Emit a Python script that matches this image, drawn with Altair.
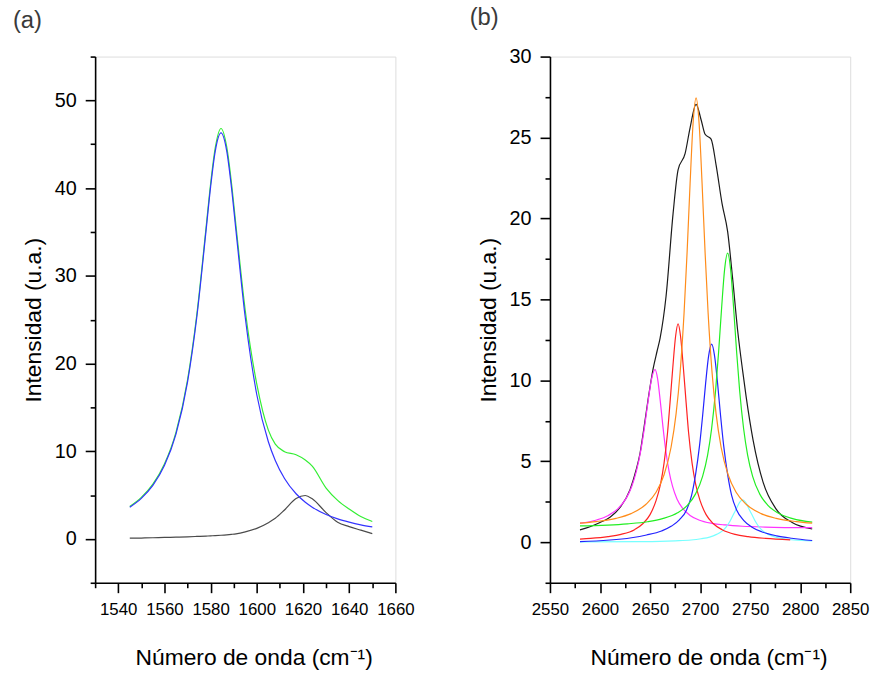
import altair as alt
import pandas as pd

FONT = "Liberation Sans"

# ---------------- (a) G band region ----------------
g_x = [1545, 1550, 1555, 1560, 1565, 1570, 1574, 1578, 1580, 1582, 1584.5, 1587, 1589,
       1591, 1595, 1600, 1605, 1608, 1612, 1617, 1621, 1624, 1630, 1635, 1640, 1645, 1650]
g_fit = [3.62, 4.63, 6.11, 8.36, 11.95, 17.88, 25.25, 35.1, 40.15, 44.2, 46.3, 44.2, 40.15,
         35.1, 25.25, 16.44, 11.08, 8.95, 6.89, 5.15, 4.18, 3.62, 2.78, 2.28, 1.91, 1.61, 1.38]
d_prime = [0.08, 0.1, 0.13, 0.17, 0.2, 0.24, 0.28, 0.32, 0.35, 0.38, 0.42, 0.47, 0.52,
           0.58, 0.8, 1.2, 1.85, 2.35, 3.3, 4.6, 4.95, 4.58, 3.0, 1.9, 1.4, 1.0, 0.6]
g_total = [3.70, 4.73, 6.24, 8.53, 12.15, 18.12, 25.53, 35.42, 40.50, 44.58, 46.8, 44.67, 40.67,
           35.68, 26.05, 17.64, 12.4, 10.8, 9.95, 9.6, 9.0, 8.3, 5.8, 4.4, 3.4, 2.55, 1.98]

# ---------------- (b) 2D band region ----------------
bk_x = [2580, 2590, 2600, 2610, 2620, 2630, 2636, 2640, 2644, 2648, 2653, 2657, 2660, 2666,
        2673, 2678, 2685, 2690, 2696, 2701, 2705, 2711, 2716, 2722, 2727.5, 2732.5, 2737.5,
        2742.5, 2746, 2753, 2763, 2776, 2792, 2812]
bk_y = [0.77, 0.96, 1.22, 1.55, 2.15, 3.25, 4.45, 5.5, 7.1, 8.8, 10.7, 11.8, 12.6, 15.2,
        20.3, 23.0, 24.0, 25.6, 27.05, 26.1, 25.2, 24.9, 23.3, 20.9, 19.2, 16.3, 13.1,
        10.6, 9.0, 6.3, 3.7, 2.05, 1.22, 0.82]

or_x = [2580, 2596, 2616, 2631, 2646, 2656, 2664, 2671, 2676, 2680, 2684, 2687, 2690, 2693,
        2696, 2699, 2702, 2705, 2708, 2712, 2716, 2721, 2728, 2736, 2746, 2761, 2776, 2796, 2812]
or_y = [1.18, 1.28, 1.48, 1.77, 2.35, 3.09, 4.17, 5.87, 7.93, 10.46, 14.18, 17.89, 22.14, 25.88,
        27.45, 25.88, 22.14, 17.89, 14.18, 10.46, 7.93, 5.87, 4.17, 3.09, 2.35, 1.77, 1.48, 1.28, 1.18]

gr_x = [2580, 2627.5, 2647.5, 2662.5, 2677.5, 2687.5, 2695.5, 2702.5, 2707.5, 2711.5, 2715.5,
        2718.5, 2721.5, 2724.5, 2727.5, 2730.5, 2733.5, 2736.5, 2739.5, 2743.5, 2747.5, 2752.5,
        2759.5, 2767.5, 2777.5, 2792.5, 2812]
gr_y = [1.01, 1.14, 1.27, 1.46, 1.82, 2.30, 2.99, 4.07, 5.39, 7.01, 9.38,
        11.75, 14.47, 16.86, 17.86, 16.86, 14.47, 11.75, 9.38, 7.01, 5.39, 4.07,
        2.99, 2.30, 1.82, 1.46, 1.24]

rd_x = [2580, 2590.5, 2608, 2621, 2634.5, 2643, 2650, 2656, 2660.5, 2664, 2667.5, 2670, 2672.75,
        2675.5, 2678, 2680.5, 2683.25, 2686, 2688.5, 2692, 2695.5, 2700, 2706, 2713, 2722, 2735,
        2748, 2765.5, 2790]
rd_y = [0.20, 0.24, 0.35, 0.49, 0.78, 1.16, 1.71, 2.57, 3.61, 4.89, 6.78, 8.66, 10.81,
        12.71, 13.5, 12.71, 10.81, 8.66, 6.78, 4.89, 3.61, 2.57, 1.71, 1.16, 0.78, 0.49,
        0.35, 0.24, 0.15]

bl_x = [2580, 2631.5, 2646.5, 2661.5, 2671.5, 2679.5, 2686.5, 2691.5, 2695.5, 2699.5, 2702.5,
        2705.5, 2708.5, 2711.5, 2714.5, 2717.5, 2720.5, 2723.5, 2727.5, 2731.5, 2736.5, 2743.5,
        2751.5, 2761.5, 2776.5, 2791.5, 2812]
bl_y = [0.04, 0.28, 0.45, 0.7, 1.0, 1.4, 2.0, 2.9, 4.2, 6.0, 7.8,
        9.8, 11.5, 12.24, 11.5, 9.8, 7.8, 6.0, 4.2, 2.9, 2.0, 1.35,
        0.95, 0.65, 0.4, 0.25, 0.11]

mg_x = [2580, 2596.7, 2608.3, 2617.7, 2625.8, 2631.7, 2636.3, 2641, 2644.5, 2648, 2651.5, 2655,
        2657.6, 2660.25, 2662.9, 2665.5, 2669, 2672.5, 2676.9, 2683, 2690, 2698.75, 2711.9, 2725,
        2742.5, 2765, 2812]
mg_y = [1.18, 1.38, 1.66, 2.06, 2.68, 3.45, 4.38, 5.76, 7.13, 8.70, 10.08, 10.66,
        10.08, 8.70, 7.13, 5.76, 4.38, 3.45, 2.68, 2.06, 1.66, 1.38, 1.17, 1.07,
        0.99, 0.94, 0.90]

cy_x = [2580, 2639, 2660, 2675, 2691, 2701, 2709.5, 2716.5, 2722, 2726, 2730, 2733, 2736.5,
        2739.5, 2742.5, 2745.5, 2748.5, 2752, 2755, 2759, 2763, 2768, 2775.5, 2784, 2794, 2812]
cy_y = [0.02, 0.04, 0.06, 0.09, 0.14, 0.22, 0.32, 0.49, 0.69, 0.94, 1.31, 1.68, 2.10,
        2.47, 2.62, 2.47, 2.10, 1.68, 1.31, 0.94, 0.69, 0.49, 0.32, 0.22, 0.14, 0.08]

X_TITLE = "Número de onda (cm⁻¹)"
Y_TITLE = "Intensidad (u.a.)"


def ticks(start, stop, step):
    out, v = [], start
    while v <= stop + 1e-9:
        out.append(round(v, 3))
        v += step
    return out


def make_axis(vals, major, title, label_size, title_pad, x_axis):
    extra = {"titleX": 160} if x_axis else {}
    return alt.Axis(
        values=vals,
        format="d",
        labelExpr=f"datum.value % {major} == 0 ? datum.label : ''",
        tickSize={"condition": {"test": f"datum.value % {major} != 0", "value": 5}, "value": 10},
        title=title,
        grid=False,
        labelFlush=False,
        labelOverlap=False,
        labelFont=FONT,
        labelFontSize=label_size,
        labelColor="#000000",
        labelPadding=9,
        titleFont=FONT,
        titleFontSize=23,
        titleFontWeight="normal",
        titleColor="#000000",
        titlePadding=title_pad,
        domainColor="#000000",
        domainWidth=1.6,
        tickColor="#000000",
        tickWidth=1.6,
        **extra,
    )


def panel(series, xdom, ydom, xaxis, yaxis, label, label_dx, label_offset):
    layers = []
    for xs, ys, color in series:
        df = pd.DataFrame({"x": xs, "y": ys})
        layers.append(
            alt.Chart(df)
            .mark_line(color=color, strokeWidth=1.2, interpolate="monotone")
            .encode(
                x=alt.X("x:Q", scale=alt.Scale(domain=xdom, nice=False, zero=False), axis=xaxis),
                y=alt.Y("y:Q", scale=alt.Scale(domain=ydom, nice=False, zero=False), axis=yaxis),
            )
        )
    return alt.layer(*layers).properties(
        width=303,
        height=531,
        title=alt.TitleParams(
            label, anchor="start", frame="group", fontSize=24, font=FONT,
            fontWeight="normal", color="#3a3a3a", dx=label_dx, offset=label_offset,
        ),
    )


left = panel(
    [
        (g_x, d_prime, "#4a4a4a"),
        (g_x, g_total, "#33ee33"),
        (g_x, g_fit, "#3333ff"),
    ],
    [1530, 1660], [-5, 55],
    make_axis(ticks(1530, 1660, 10), 20, X_TITLE, 17, 29, True),
    make_axis(ticks(-5, 55, 5), 10, Y_TITLE, 20, 9, False),
    "(a)", -83, 14,
)

right = panel(
    [
        (bk_x, bk_y, "#1a1a1a"),
        (mg_x, mg_y, "#ff33ff"),
        (cy_x, cy_y, "#77ffff"),
        (rd_x, rd_y, "#ff2222"),
        (bl_x, bl_y, "#2222ff"),
        (gr_x, gr_y, "#22ee22"),
        (or_x, or_y, "#ff8c1a"),
    ],
    [2550, 2850], [-2.5, 30],
    make_axis(ticks(2550, 2850, 25), 50, X_TITLE, 17, 29, True),
    make_axis(ticks(-2.5, 30, 2.5), 5, Y_TITLE, 20, 9, False),
    "(b)", -81, 17,
)

chart = (
    alt.hconcat(left, right, spacing=54)
    .properties(padding={"left": 12, "top": 2, "right": 4, "bottom": 4})
    .configure_view(strokeWidth=0)
    .configure(background="#ffffff")
)

chart.save("out.html", embed_options={"renderer": "svg", "actions": False})
